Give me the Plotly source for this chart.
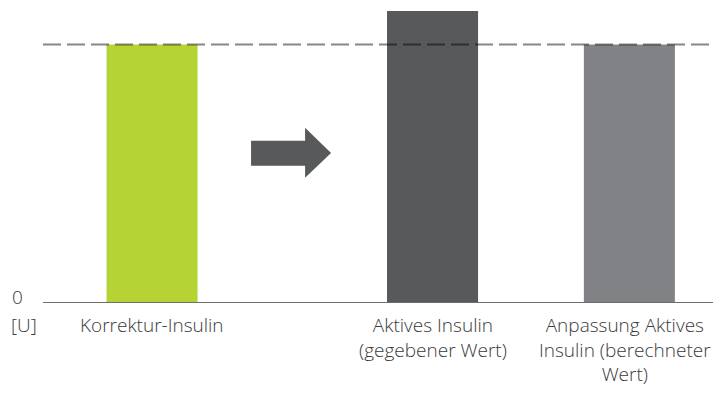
import plotly.graph_objects as go

# categories and values (arbitrary units, correction insulin = reference level)
categories = [
    "Korrektur-Insulin",
    "Aktives Insulin<br>(gegebener Wert)",
    "Anpassung Aktives<br>Insulin (berechneter<br>Wert)",
]
positions = [1.0, 3.85, 5.85]
values = [1.0, 1.13, 1.0]
colors = ["#b5d334", "#58595b", "#808285"]
reference_level = 1.0

TEXT = "#3a3a3a"
FONT = dict(family="Open Sans, Roboto, Liberation Sans, sans-serif", size=19, color=TEXT, weight=300)

# the page adds an 8px body margin, so the figure is made smaller and shifted
PAGE_OFF = 8

fig = go.Figure(
    go.Bar(
        x=positions,
        y=values,
        width=0.925,
        marker=dict(color=colors, line=dict(width=0)),
        hoverinfo="skip",
    )
)

# dashed reference line at the correction insulin level
fig.add_hline(
    y=reference_level,
    line=dict(color="rgba(0,0,0,0.47)", width=2, dash="18px,6px"),
    layer="above",
)

# block arrow between the first and second bar
fig.add_shape(
    type="path",
    path="M 2.006 0.626 L 2.555 0.626 L 2.555 0.677 L 2.819 0.579 "
         "L 2.555 0.482 L 2.555 0.529 L 2.006 0.529 Z",
    xref="x", yref="y",
    fillcolor="#58595b",
    line=dict(width=0),
)

# category labels under the bars (last one nudged so it is not cut at the edge)
for cat, pos, nudge in zip(categories, positions, [0, 0, -4]):
    fig.add_annotation(
        text=cat,
        x=pos, y=0, xref="x", yref="y",
        xanchor="center", yanchor="top",
        yshift=-8, xshift=nudge,
        showarrow=False,
        align="center",
        font=FONT,
    )

# y-axis zero and unit labels (positions given in page pixels, converted to paper)
for txt, px_x, px_y in [("0", 10, 297), ("[U]", 9, 325)]:
    fig.add_annotation(
        text=txt,
        xref="paper", yref="paper",
        x=(px_x - 43) / 672, y=(302 - px_y) / 291,
        xanchor="left", yanchor="middle",
        showarrow=False,
        font=FONT,
    )

fig.update_layout(
    width=721 - PAGE_OFF,
    height=394 - 2 * PAGE_OFF,
    margin=dict(l=43 - PAGE_OFF, r=6, t=11 - PAGE_OFF, b=84, autoexpand=False),
    paper_bgcolor="white",
    plot_bgcolor="white",
    showlegend=False,
    font=FONT,
    xaxis=dict(
        range=[-0.108, 6.72],
        showticklabels=False,
        showgrid=False,
        zeroline=False,
        showline=True,
        linecolor="#6d6d6d",
        linewidth=1,
        ticks="",
        automargin=False,
    ),
    yaxis=dict(
        range=[0, 1.13],
        showgrid=False,
        zeroline=False,
        showticklabels=False,
        showline=False,
        ticks="",
        automargin=False,
    ),
)

fig.write_html("out.html")
